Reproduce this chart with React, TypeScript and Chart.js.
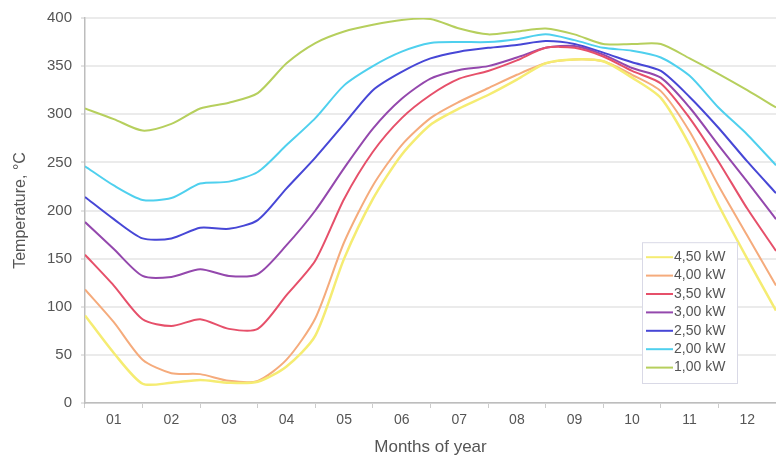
import React, { useEffect, useRef } from "react";
import { Chart, registerables } from "chart.js";

Chart.register(...registerables);

const MONTH_LABELS = ["01", "02", "03", "04", "05", "06", "07", "08", "09", "10", "11", "12"];
const MONTH_POS = [0, 0.5, 1, 1.5, 2, 2.5, 3, 3.5, 4, 4.5, 5, 5.5, 6, 6.5, 7, 7.5, 8, 8.5, 9, 9.5, 10, 10.5, 11, 11.5, 12];
const Y_TICKS = [0, 50, 100, 150, 200, 250, 300, 350, 400];

const SERIES_NAMES = ["4,50 kW", "4,00 kW", "3,50 kW", "3,00 kW", "2,50 kW", "2,00 kW", "1,00 kW"];
const SERIES_COLORS = ["#f5ec72", "#f5ab7c", "#e6506a", "#9448ad", "#4747d6", "#4fd0ee", "#b6cf5d"];

const P450 = [91, 52, 20, 21, 24, 21, 22, 38, 70, 150, 212, 258, 289, 306, 320, 336, 353, 357, 355, 338, 317, 268, 206, 150, 96];
const P400 = [118, 84, 45, 31, 30, 23, 23, 45, 88, 167, 226, 268, 296, 313, 327, 341, 353, 357, 355, 341, 324, 282, 226, 174, 122];
const P350 = [154, 122, 87, 80, 87, 77, 77, 112, 148, 212, 261, 296, 320, 337, 345, 356, 369, 369, 360, 345, 332, 296, 251, 202, 158];
const P300 = [188, 160, 132, 131, 139, 132, 134, 164, 200, 244, 285, 316, 337, 346, 350, 359, 369, 371, 362, 348, 338, 307, 268, 230, 191];
const P250 = [214, 191, 171, 171, 182, 181, 190, 223, 255, 290, 325, 344, 358, 365, 369, 372, 376, 373, 364, 354, 345, 318, 286, 251, 218];
const P200 = [246, 226, 211, 213, 228, 230, 240, 268, 296, 330, 350, 365, 374, 375, 375, 378, 383, 377, 369, 366, 359, 340, 307, 279, 247];
const P100 = [306, 295, 283, 290, 306, 312, 322, 353, 374, 386, 393, 398, 399, 389, 383, 386, 389, 383, 373, 373, 373, 358, 342, 325, 307];

const SERIES_VALUES = [P450, P400, P350, P300, P250, P200, P100];

const FONT = "'Liberation Sans', Arial, sans-serif";
const TEXT = "#555555";

const legendPlugin = {
  id: "insideLegend",
  afterDraw(chart: any) {
    const { ctx, chartArea } = chart;
    const boxRight = chartArea.right - 39;
    const boxLeft = boxRight - 95;
    const boxBottom = chartArea.bottom - 20;
    const rowH = 18.4;
    const boxTop = boxBottom - rowH * SERIES_NAMES.length - 12;
    ctx.save();
    ctx.fillStyle = "#ffffff";
    ctx.fillRect(boxLeft, boxTop, boxRight - boxLeft, boxBottom - boxTop);
    ctx.strokeStyle = "#d9d9e6";
    ctx.lineWidth = 1;
    ctx.strokeRect(boxLeft + 0.5, boxTop + 0.5, boxRight - boxLeft, boxBottom - boxTop);
    ctx.font = `14px ${FONT}`;
    ctx.textBaseline = "middle";
    ctx.textAlign = "left";
    SERIES_NAMES.forEach((name, i) => {
      const y = boxTop + 15 + i * rowH;
      ctx.strokeStyle = SERIES_COLORS[i];
      ctx.lineWidth = 2;
      ctx.beginPath();
      ctx.moveTo(boxLeft + 4, y);
      ctx.lineTo(boxLeft + 31, y);
      ctx.stroke();
      ctx.fillStyle = TEXT;
      ctx.fillText(name, boxLeft + 32, y);
    });
    ctx.restore();
  },
};

export default function App() {
  const ref = useRef<HTMLCanvasElement | null>(null);

  useEffect(() => {
    if (!ref.current) return;
    const datasets = SERIES_NAMES.map((name, i) => ({
      label: name,
      data: MONTH_POS.map((m, j) => ({ x: m, y: SERIES_VALUES[i][j] })),
      borderColor: SERIES_COLORS[i],
      backgroundColor: SERIES_COLORS[i],
      borderWidth: i === 0 ? 2.5 : 2,
      pointRadius: 0,
      tension: 0.25,
      fill: false,
      xAxisID: "xl",
      yAxisID: "y",
    }));

    const chart = new Chart(ref.current, {
      type: "line",
      data: { datasets },
      options: {
        animation: false,
        responsive: false,
        maintainAspectRatio: false,
        layout: { padding: { top: 18, left: 0, right: 0, bottom: 0 } },
        plugins: {
          legend: { display: false },
          tooltip: { enabled: false },
        },
        scales: {
          xl: {
            type: "linear",
            display: false,
            min: 0,
            max: 12,
          },
          x: {
            type: "category",
            labels: MONTH_LABELS,
            offset: true,
            position: "bottom",
            afterFit: (s: any) => {
              s.height = 61;
            },
            grid: {
              offset: true,
              drawOnChartArea: false,
              tickLength: 5,
              color: "#cccccc",
            },
            border: { color: "#bdbdbd", width: 1.5 },
            ticks: {
              padding: 4,
              color: TEXT,
              font: { family: FONT, size: 14 },
              maxRotation: 0,
              autoSkip: false,
            },
            title: {
              display: true,
              text: "Months of year",
              color: TEXT,
              font: { family: FONT, size: 17 },
              padding: { top: 4, bottom: 6 },
            },
          },
          y: {
            type: "linear",
            min: 0,
            max: 400,
            afterFit: (s: any) => {
              s.width = 85;
            },
            afterBuildTicks: (s: any) => {
              s.ticks = Y_TICKS.map((v) => ({ value: v }));
            },
            grid: {
              color: "#ebebeb",
              lineWidth: 2,
              tickLength: 4,
              tickColor: "#c8c8c8",
              tickWidth: 1,
            },
            border: { color: "#bdbdbd", width: 1.5 },
            ticks: {
              padding: 9,
              color: TEXT,
              font: { family: FONT, size: 15 },
            },
            title: {
              display: true,
              text: "Temperature, °C",
              color: TEXT,
              font: { family: FONT, size: 16 },
              padding: { top: 11, bottom: 0 },
            },
          },
        },
      },
      plugins: [legendPlugin],
    });
    return () => chart.destroy();
  }, []);

  return (
    <div style={{ position: "fixed", left: 0, top: 0, width: 776, height: 464, background: "#ffffff" }}>
      <canvas ref={ref} width={776} height={464} style={{ width: 776, height: 464, display: "block" }} />
    </div>
  );
}
